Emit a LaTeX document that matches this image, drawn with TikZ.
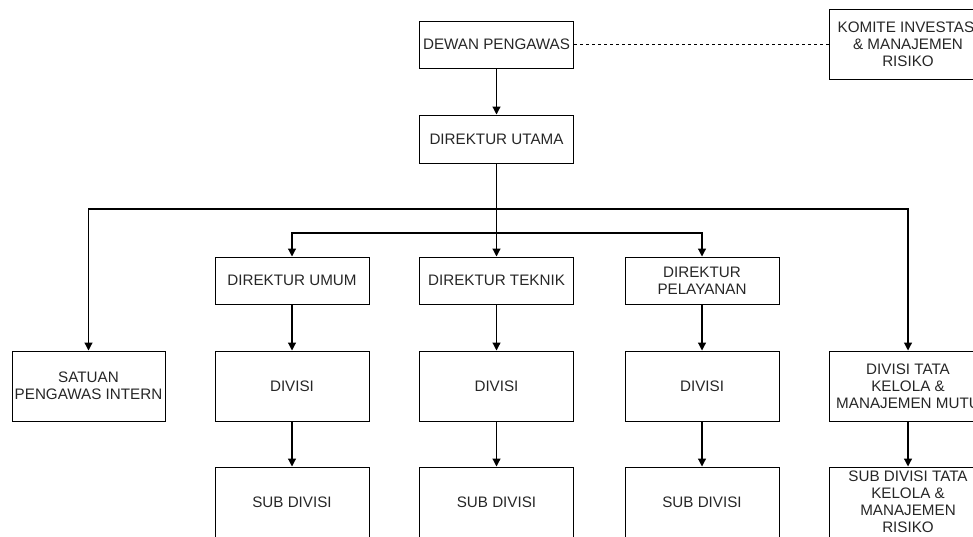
\documentclass[tikz,border=0pt]{standalone}
\usepackage{fontspec}
\setmainfont{Liberation Sans}
\usetikzlibrary{positioning, arrows.meta}

\begin{document}
\begin{tikzpicture} [x=1pt, y=1pt,
                on grid,
                box/.style = {draw, line width=1pt, inner sep=1pt,
                    align=center, minimum width=154pt, minimum height=47pt,
                    font=\fontsize{15.2}{17}\selectfont, text=black!85},
                tall/.style = {minimum height=70pt},
                link/.style = {-{Triangle[length=8pt,width=8pt]}, line width=1.2pt},
                dotline/.style = {line width=0.9pt, dash pattern=on 3pt off 3pt}]

            \useasboundingbox (0,0) rectangle (973,-536);
            \clip (0,0) rectangle (973,-536);

            % Dewan Pengawas
            \node (dewan) [box] at (496.5,-44.5) {DEWAN PENGAWAS};

            % Komite
            \node (komite) [box, tall, minimum width=158pt,
                right = 411.5pt of dewan] {KOMITE INVESTASI\\ \& MANAJEMEN\\ RISIKO};

            % Direktur Utama
            \node (utama) [box, minimum height=48pt,
                below = 94.5pt of dewan] {DIREKTUR UTAMA};

            % Direktur row
            \node (teknik) [box,
                below = 141.5pt of utama] {DIREKTUR TEKNIK};
            \node (umum) [box,
                left = 204.5pt of teknik] {DIREKTUR UMUM};
            \node (pelayanan) [box,
                right = 205.5pt of teknik] {DIREKTUR\\ PELAYANAN};

            % Divisi row
            \node (divumum) [box, tall,
                below = 105.5pt of umum] {DIVISI};
            \node (divteknik) [box, tall,
                below = 105.5pt of teknik] {DIVISI};
            \node (divpelayanan) [box, tall,
                below = 105.5pt of pelayanan] {DIVISI};
            \node (satuan) [box, tall, minimum width=153pt,
                left = 203.5pt of divumum] {SATUAN\\ PENGAWAS INTERN};
            \node (tata) [box, tall, minimum width=158pt,
                right = 206pt of divpelayanan] {DIVISI TATA\\ KELOLA \&\\ MANAJEMEN MUTU};

            % Sub divisi row
            \node (subumum) [box, tall,
                below = 116pt of divumum] {SUB DIVISI};
            \node (subteknik) [box, tall,
                below = 116pt of divteknik] {SUB DIVISI};
            \node (subpelayanan) [box, tall,
                below = 116pt of divpelayanan] {SUB DIVISI};
            \node (subtata) [box, tall, minimum width=158pt,
                below = 116pt of tata] {SUB DIVISI TATA\\ KELOLA \&\\ MANAJEMEN\\ RISIKO};

            % Bus points
            \coordinate (bus1) at (496.5,-209);
            \coordinate (bus2) at (496.5,-233);

            % Arrows
            \draw [dotline] (dewan) -- (komite);
            \draw [link] (dewan) -- (utama);
            \draw [link] (utama) -- (teknik);
            \draw [link] (bus1) -| (satuan);
            \draw [link] (bus1) -| (tata);
            \draw [link] (bus2) -| (umum);
            \draw [link] (bus2) -| (pelayanan);
            \draw [link] (umum) -- (divumum);
            \draw [link] (teknik) -- (divteknik);
            \draw [link] (pelayanan) -- (divpelayanan);
            \draw [link] (tata) -- (subtata);
            \draw [link] (divumum) -- (subumum);
            \draw [link] (divteknik) -- (subteknik);
            \draw [link] (divpelayanan) -- (subpelayanan);
            \end{tikzpicture}
\end{document}
